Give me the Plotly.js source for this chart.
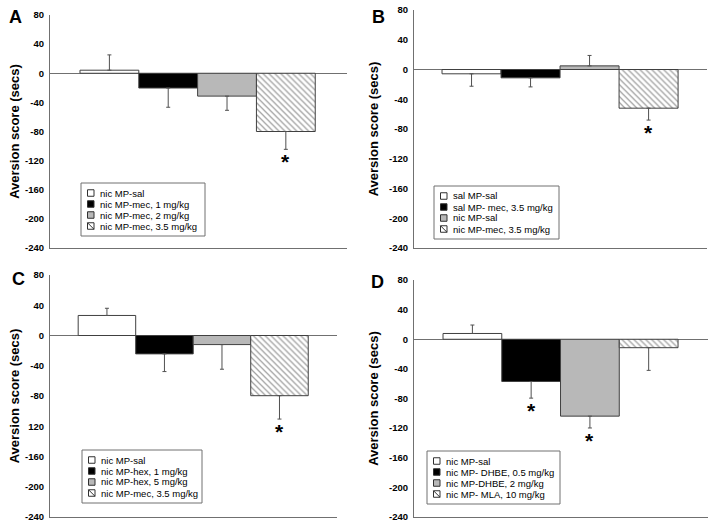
<!DOCTYPE html>
<html><head><meta charset="utf-8">
<script src="https://cdn.plot.ly/plotly-3.0.1.min.js"></script>
<style>html,body{margin:0;padding:0;background:#fff}#chart{width:714px;height:527px}</style>
</head><body><div id="chart"></div>
<script>
// ---------- DATA ----------
const panelLetters = ['A', 'B', 'C', 'D'];
const categories = [0, 1, 2, 3];
const yTickVals = [-240, -200, -160, -120, -80, -40, 0, 40, 80];
const yTickTextStd = ['-240', '-200', '-160', '-120', '-80', '-40', '0', '40', '80'];
const yTickTextC = ['-240', '-200', '-160', '120', '-80', '-40', '0', '40', '80'];
const yTitle = 'Aversion score (secs)';

const labelsA = ['nic MP-sal', 'nic MP-mec, 1 mg/kg', 'nic MP-mec, 2 mg/kg', 'nic MP-mec, 3.5 mg/kg'];
const valuesA = [4.2, -20.3, -31.4, -80];
const semA = [21, 26.4, 19.5, 24.5];
const sigA = [false, false, false, true];

const labelsB = ['sal MP-sal', 'sal MP- mec, 3.5 mg/kg', 'nic MP-sal', 'nic MP-mec, 3.5 mg/kg'];
const valuesB = [-5.8, -11.2, 4.9, -52];
const semB = [16.7, 12.2, 14, 16];
const sigB = [false, false, false, true];

const labelsC = ['nic MP-sal', 'nic MP-hex, 1 mg/kg', 'nic MP-hex, 5 mg/kg', 'nic MP-mec, 3.5 mg/kg'];
const valuesC = [26.5, -24.3, -12, -79.6];
const semC = [9.5, 23.4, 32.6, 30.9];
const sigC = [false, false, false, true];

const labelsD = ['nic MP-sal', 'nic MP- DHBE, 0.5 mg/kg', 'nic MP-DHBE, 2 mg/kg', 'nic MP- MLA, 10 mg/kg'];
const valuesD = [7.8, -57, -103.8, -11.4];
const semD = [11.4, 22.5, 16, 30.6];
const sigD = [false, true, true, false];

// ---------- STYLE / LAYOUT ----------
const W = 714, H = 527;
const FONT = 'Liberation Sans, Arial, sans-serif';
const fills = ['#ffffff', '#000000', '#b8b8b8', '#ffffff'];
const patterns = ['', '', '', '\\'];
const lineGrey = '#707070';

const panels = [
  {labels: labelsA, values: valuesA, sem: semA, sig: sigA, ticks: yTickTextStd, standoff: 2,
   box: [50, 347, 15, 248], xr: [-1.01, 4.04], leg: [81, 183, 124], letter: [15, 17]},
  {labels: labelsB, values: valuesB, sem: semB, sig: sigB, ticks: yTickTextStd, standoff: 7,
   box: [414, 707, 10, 248], xr: [-0.975, 3.99], leg: [434, 186, 125], letter: [378, 17]},
  {labels: labelsC, values: valuesC, sem: semC, sig: sigC, ticks: yTickTextC, standoff: 2,
   box: [50, 337, 275, 517], xr: [-0.99, 4.0], leg: [82, 450, 120], letter: [18, 279]},
  {labels: labelsD, values: valuesD, sem: semD, sig: sigD, ticks: yTickTextStd, standoff: 7,
   box: [414, 708, 280, 517], xr: [-0.994, 4.01], leg: [427, 451, 133], letter: [377, 282]}
];

const px = v => v / W;
const py = v => 1 - v / H;

const traces = [];
const annotations = [];
const shapes = [];
const layout = {
  width: W, height: H,
  margin: {l: 0, r: 0, t: 0, b: 0},
  paper_bgcolor: '#ffffff', plot_bgcolor: '#ffffff',
  showlegend: false, bargap: 0,
  font: {family: FONT, color: '#000'}
};

panels.forEach((p, i) => {
  const n = i === 0 ? '' : String(i + 1);
  const xa = 'x' + n, ya = 'y' + n;
  traces.push({
    type: 'bar', x: categories, y: p.values, xaxis: xa, yaxis: ya,
    hoverinfo: 'skip', showlegend: false,
    marker: {
      color: fills,
      line: {color: '#404040', width: 1},
      pattern: {shape: patterns, size: 4.2, solidity: 0.3, fgcolor: '#505050', fillmode: 'overlay'}
    },
    error_y: {
      type: 'data', symmetric: false, visible: true,
      array: p.values.map((v, k) => v >= 0 ? p.sem[k] : 0),
      arrayminus: p.values.map((v, k) => v < 0 ? p.sem[k] : 0),
      color: '#505050', thickness: 1, width: 2
    }
  });
  layout['xaxis' + n] = {
    domain: [px(p.box[0]), px(p.box[1])], range: p.xr, anchor: ya,
    showline: true, linecolor: lineGrey, linewidth: 1, mirror: false,
    showticklabels: false, ticks: '', showgrid: false, zeroline: false, fixedrange: true
  };
  layout['yaxis' + n] = {
    domain: [py(p.box[3]), py(p.box[2])], range: [-240, 80], anchor: xa,
    tickvals: yTickVals, ticktext: p.ticks, ticks: '', ticklabelstandoff: 3,
    showline: true, linecolor: lineGrey, linewidth: 1,
    zeroline: true, zerolinecolor: lineGrey, zerolinewidth: 1,
    showgrid: false, fixedrange: true,
    tickfont: {family: FONT, size: 9.5, weight: 'bold', color: '#000'},
    title: {text: yTitle, font: {family: FONT, size: 13, weight: 'bold', color: '#000'}, standoff: p.standoff}
  };
  // significance asterisks
  p.values.forEach((v, k) => {
    if (p.sig[k]) {
      annotations.push({
        xref: xa, yref: ya, x: categories[k], y: v - p.sem[k],
        text: '*', showarrow: false, yanchor: 'top', xanchor: 'center', yshift: 1,
        font: {family: FONT, size: 21, weight: 'bold', color: '#000'}
      });
    }
  });
  // panel letter
  annotations.push({
    xref: 'paper', yref: 'paper', x: px(p.letter[0]), y: py(p.letter[1]),
    text: panelLetters[i], showarrow: false, xanchor: 'center', yanchor: 'middle',
    font: {family: FONT, size: 18, weight: 'bold', color: '#000'}
  });
  // legend box
  const [lx, ly, lw] = p.leg;
  const rowH = 11, firstRow = 10, sym = 6.5;
  const lh = firstRow * 2 + rowH * 3;
  shapes.push({type: 'rect', xref: 'paper', yref: 'paper',
    x0: px(lx), x1: px(lx + lw), y0: py(ly), y1: py(ly + lh),
    line: {color: lineGrey, width: 1}, fillcolor: 'rgba(0,0,0,0)'});
  p.labels.forEach((lab, k) => {
    const cy = ly + firstRow + k * rowH;
    const sx0 = lx + 6.5, sx1 = sx0 + sym, sy0 = cy - sym / 2, sy1 = cy + sym / 2;
    shapes.push({type: 'rect', xref: 'paper', yref: 'paper',
      x0: px(sx0), x1: px(sx1), y0: py(sy0), y1: py(sy1),
      line: {color: '#303030', width: 1}, fillcolor: fills[k]});
    if (patterns[k]) {
      shapes.push({type: 'line', xref: 'paper', yref: 'paper',
        x0: px(sx0), x1: px(sx1), y0: py(sy0), y1: py(sy1),
        line: {color: '#303030', width: 1}});
    }
    annotations.push({
      xref: 'paper', yref: 'paper', x: px(lx + 18), y: py(cy),
      text: lab, showarrow: false, xanchor: 'left', yanchor: 'middle', borderpad: 0,
      font: {family: FONT, size: 9.5, color: '#000'}
    });
  });
});

layout.annotations = annotations;
layout.shapes = shapes;
Plotly.newPlot('chart', traces, layout, {staticPlot: true, displayModeBar: false});
</script>
</body></html>
